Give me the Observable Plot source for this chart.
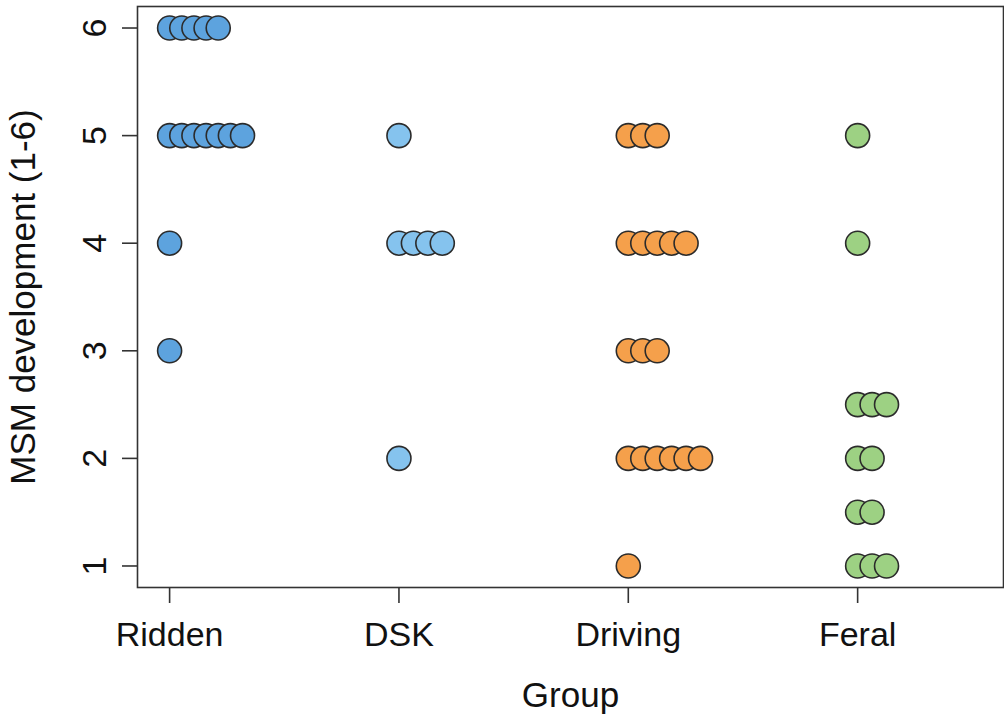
<!DOCTYPE html>
<html>
<head>
<meta charset="utf-8">
<script src="https://cdn.jsdelivr.net/npm/d3@7"></script>
<script src="https://cdn.jsdelivr.net/npm/@observablehq/plot@0.6"></script>
<style>
  html, body { margin: 0; padding: 0; background: #ffffff; }
  #chart svg { display: block; font-family: "Liberation Sans", Arial, Helvetica, sans-serif; }
</style>
</head>
<body>
<div id="chart"></div>
<script>
// ---- Data ----
const groups = ["Ridden", "DSK", "Driving", "Feral"];
const riddenScores  = [6, 6, 6, 6, 6, 5, 5, 5, 5, 5, 5, 5, 4, 3];
const dskScores     = [5, 4, 4, 4, 4, 2];
const drivingScores = [5, 5, 5, 4, 4, 4, 4, 4, 3, 3, 3, 2, 2, 2, 2, 2, 2, 1];
const feralScores   = [5, 4, 2.5, 2.5, 2.5, 2, 2, 1.5, 1.5, 1, 1, 1];
const yTicks = [1, 2, 3, 4, 5, 6];
const groupColors = ["#5DA3DE", "#85C3EE", "#F5A04B", "#9DD183"];

// ---- Styling / layout ----
const stackStep = [0.053, 0.063, 0.063, 0.063]; // horizontal offset between stacked dots (x units)
const W = 1004, H = 719;
const mL = 137, mT = 6, mR = 1, mB = 132;
const font = 34;
const titleFont = 35;

// Build rows: stack identical values horizontally (stripchart "stack")
const allScores = [riddenScores, dskScores, drivingScores, feralScores];
const rows = [];
allScores.forEach((scores, gi) => {
  const seen = new Map();
  scores.forEach(v => {
    const k = seen.get(v) || 0;
    seen.set(v, k + 1);
    rows.push({group: groups[gi], gi, score: v, k});
  });
});

const chart = Plot.plot({
  width: W,
  height: H,
  marginLeft: mL,
  marginTop: mT,
  marginRight: mR,
  marginBottom: mB,
  style: {fontFamily: '"Liberation Sans", Arial, Helvetica, sans-serif', color: "#111", background: "#fff"},
  x: {domain: [0.86, 4.636], axis: null},
  y: {domain: [0.8, 6.2], axis: null},
  color: {type: "identity"},
  marks: [
    Plot.frame({stroke: "#333", strokeWidth: 1.6}),
    // x axis ticks + labels
    Plot.axisX({
      ticks: [1, 2, 3, 4],
      tickFormat: i => groups[i - 1],
      tickSize: 16,
      tickPadding: 18,
      fontSize: font,
      stroke: "#333",
      strokeWidth: 1.6,
      fill: "#111",
      label: null
    }),
    // y axis ticks (labels drawn separately, rotated)
    Plot.axisY({
      ticks: yTicks,
      tickFormat: () => "",
      tickSize: 15,
      stroke: "#333",
      strokeWidth: 1.6,
      label: null
    }),
    Plot.text(yTicks, {
      y: d => d,
      text: d => String(d),
      frameAnchor: "left",
      dx: -32,
      rotate: -90,
      lineAnchor: "bottom",
      textAnchor: "middle",
      fontSize: font,
      fill: "#111"
    }),
    // axis titles
    Plot.text(["Group"], {
      frameAnchor: "bottom",
      dy: 119,
      lineAnchor: "bottom",
      fontSize: titleFont,
      fill: "#111"
    }),
    Plot.text(["MSM development (1-6)"], {
      frameAnchor: "left",
      dx: -103,
      rotate: -90,
      lineAnchor: "bottom",
      textAnchor: "middle",
      fontSize: titleFont,
      fill: "#111"
    }),
    // data points
    Plot.dot(rows, {
      x: d => d.gi + 1 + d.k * stackStep[d.gi],
      y: "score",
      r: 12,
      fill: d => groupColors[d.gi],
      stroke: "#2b2b2b",
      strokeWidth: 1.6
    })
  ]
});

document.getElementById("chart").appendChild(chart);
</script>
</body>
</html>
